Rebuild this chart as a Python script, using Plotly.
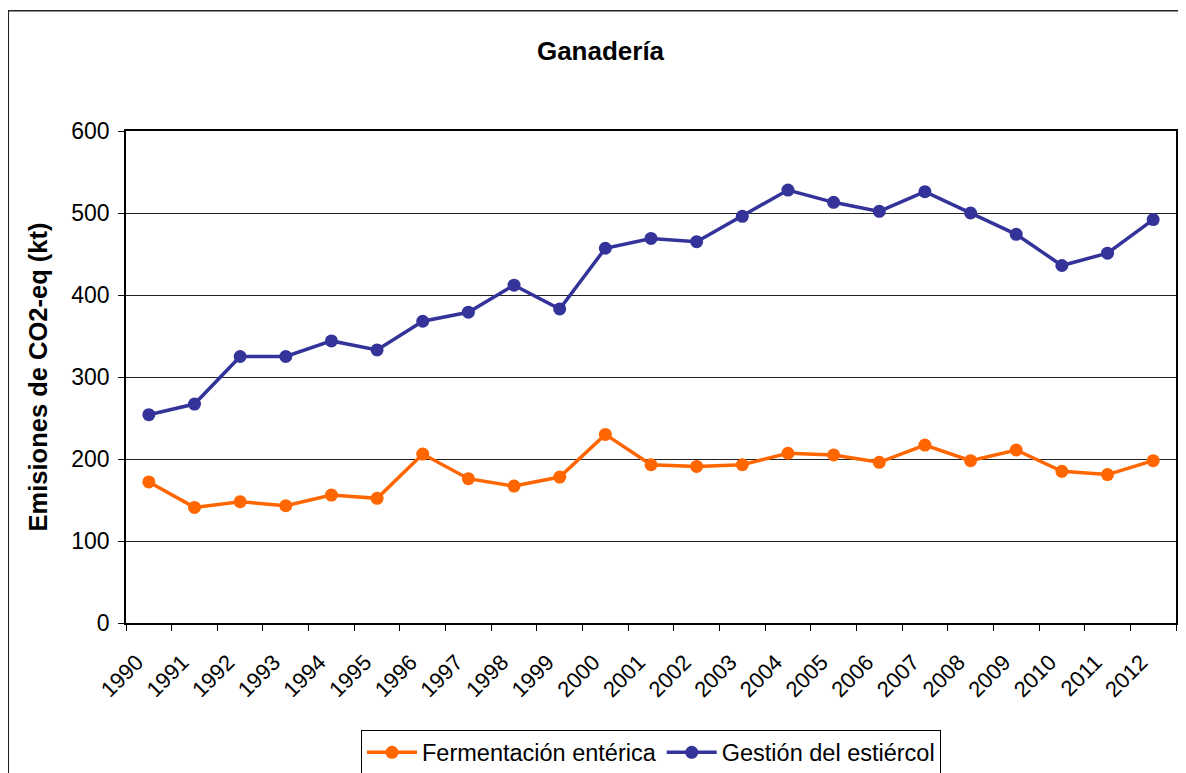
import plotly.graph_objects as go

years = [str(y) for y in range(1990, 2013)]
fermentacion = [172, 141, 148, 143, 156, 152, 206, 176, 167, 178, 230, 193,
                191, 193, 207, 205, 196, 217, 198, 211, 185, 181, 198]
estiercol = [254, 267, 325, 325, 344, 333, 368, 379, 412, 383, 457, 469,
             465, 496, 528, 513, 502, 526, 500, 474, 436, 451, 492]
y_ticks = [0, 100, 200, 300, 400, 500, 600]

FONT = "Liberation Sans, Arial, sans-serif"
ORANGE = "#FF6600"
BLUE = "#333399"

# the page body has an 8px default margin; work in window pixels and shift
OFF = 8
W, H = 1186 - OFF, 773 - OFF
L, R, T, B = 126 - OFF, 1176 - OFF, 130.5 - OFF, 623.3 - OFF

fig = go.Figure()
fig.add_trace(go.Scatter(
    x=years, y=fermentacion, name="Fermentación entérica", mode="lines+markers",
    line=dict(color=ORANGE, width=3.5), marker=dict(color=ORANGE, size=13)))
fig.add_trace(go.Scatter(
    x=years, y=estiercol, name="Gestión del estiércol", mode="lines+markers",
    line=dict(color=BLUE, width=3.5), marker=dict(color=BLUE, size=13)))

def px_x(p):
    return (p - OFF - L) / (R - L)

def px_y(p):
    return (B - (p - OFF)) / (B - T)

fig.update_layout(
    width=W, height=H,
    margin=dict(l=L, r=W - R, t=T, b=H - B, autoexpand=False),
    paper_bgcolor="white", plot_bgcolor="white",
    font=dict(family=FONT, size=23, color="black"),
    title=dict(text="<b>Ganadería</b>", x=(600.5 - OFF) / W, xanchor="center",
               y=1 - (51 - OFF) / H, yanchor="middle", yref="container",
               font=dict(family=FONT, size=26, color="black")),
    showlegend=True,
    legend=dict(orientation="h", x=0.5, xanchor="center", y=px_y(730), yanchor="top",
                bordercolor="black", borderwidth=1, bgcolor="white",
                font=dict(family=FONT, size=23.5, color="black"),
                itemwidth=50, tracegroupgap=0),
    shapes=[dict(type="rect", xref="paper", yref="paper",
                 x0=px_x(8.3), x1=px_x(1200), y0=px_y(800), y1=px_y(10),
                 line=dict(color="#222222", width=1.5), layer="below")],
)

fig.update_xaxes(
    type="category", range=[-0.5, 22.5], tickangle=-45,
    tickson="boundaries", ticks="outside", ticklen=6, tickcolor="black",
    ticklabelstandoff=16, ticklabelshift=-12,
    showline=True, linecolor="black", linewidth=1.5, mirror=True,
    showgrid=False, zeroline=False,
    tickfont=dict(family=FONT, size=22, color="black"))

fig.update_yaxes(
    range=[0, 600], tickvals=y_ticks, ticks="outside", ticklen=6, tickcolor="black",
    ticklabelstandoff=4,
    showline=True, linecolor="black", linewidth=1.5, mirror=True,
    showgrid=True, gridcolor="#222222", gridwidth=1, zeroline=False,
    tickfont=dict(family=FONT, size=23, color="black"),
    title=dict(text="<b>Emisiones de CO2-eq (kt)</b>", standoff=16,
               font=dict(family=FONT, size=25.5, color="black")))

fig.write_html("out.html")
